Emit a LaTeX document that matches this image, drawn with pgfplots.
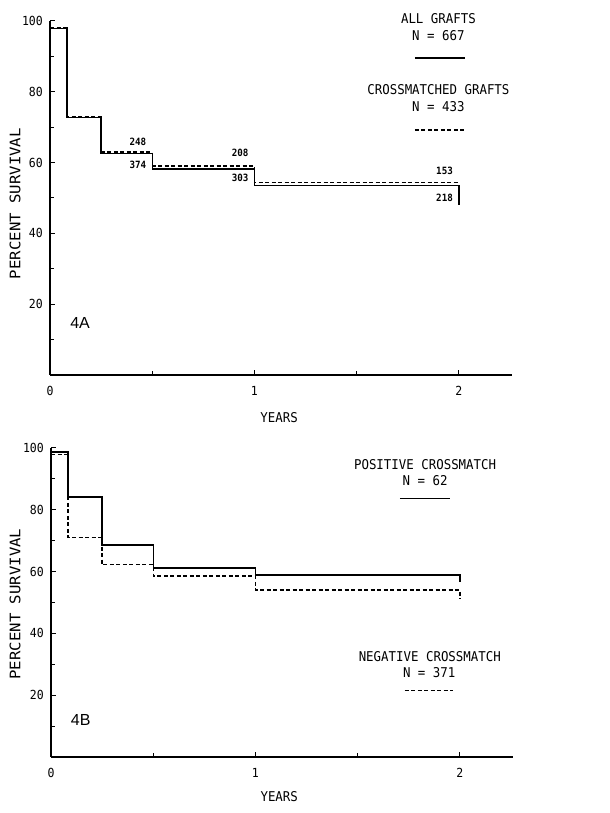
\documentclass[border=0pt]{standalone}
\usepackage{fontspec}
\setmainfont[FakeStretch=0.92]{DejaVu Sans Mono}
\newfontfamily\ylfont[FakeStretch=1.08]{DejaVu Sans Mono}
\newfontfamily\panelfont{Liberation Sans}
\usepackage{pgfplots}
\pgfplotsset{compat=1.18}
\pgfplotsset{
  km/.style={
    scale only axis, width=462bp,
    xmin=0, xmax=2.26, ymin=0, ymax=100,
    axis x line=bottom, axis y line=left,
    axis line style={-, line width=1.3bp},
    xtick={0,1,2}, minor xtick={0.5,1.5},
    ytick={20,40,60,80,100}, minor ytick={10,30,50,70,90},
    tick align=inside, major tick length=4.5bp, minor tick length=3.5bp,
    tick style={line width=1bp, black},
    /pgf/number format/assume math mode=true,
    ticklabel style={font=\fontsize{12.5bp}{14bp}\selectfont, inner sep=0pt},
    xticklabel style={yshift=-11bp},
    yticklabel style={xshift=-7bp},
    xlabel={YEARS}, ylabel={PERCENT SURVIVAL},
    xlabel style={font=\fontsize{13.5bp}{16bp}\selectfont, anchor=center, inner sep=0pt},
    ylabel style={font=\ylfont\fontsize{14.5bp}{16bp}\selectfont, anchor=center, inner sep=0pt},
    clip=false,
  },
  solidc/.style={black, line width=1.4bp, const plot, no marks},
  dashc/.style={black, line width=1.3bp, const plot, no marks, dash pattern=on 4bp off 2.5bp},
}
\tikzset{
  txt/.style={font=\fontsize{13.5bp}{16bp}\selectfont, inner sep=0pt, anchor=center},
  num/.style={font=\bfseries\fontsize{10bp}{12bp}\selectfont, inner sep=0pt, anchor=center},
  pan/.style={font=\panelfont\fontsize{16bp}{18bp}\selectfont, inner sep=0pt, anchor=center},
}
\begin{document}
\begin{tikzpicture}
\path (0,0) rectangle (610bp,813bp);
% ---------- Panel 4A ----------
\begin{axis}[km, at={(50bp,438bp)}, anchor=south west, height=354bp,
  xlabel style={at={(axis description cs:0.496,-0.1215)}},
  ylabel style={at={(axis description cs:-0.0757,0.484)}}]
\addplot[solidc] coordinates {(0,97.8) (0.083,72.8) (0.25,62.6) (0.5,58.2) (1,53.5) (2,53.5) (2,48)};
\addplot[dashc] coordinates {(0,98.2) (0.083,73.1) (0.25,63.0) (0.5,59.0) (1,54.3) (2,54.3)};
% legend samples
\addplot[solidc] coordinates {(1.785,89.5) (2.03,89.5)};
\addplot[dashc] coordinates {(1.785,69.2) (2.03,69.2)};
\node[txt] at (axis cs:1.90,100.8) {ALL GRAFTS};
\node[txt] at (axis cs:1.90,96.0) {N = 667};
\node[txt] at (axis cs:1.90,80.5) {CROSSMATCHED GRAFTS};
\node[txt] at (axis cs:1.90,75.7) {N = 433};
\node[num] at (axis cs:0.43,65.8) {248};
\node[num] at (axis cs:0.43,59.3) {374};
\node[num] at (axis cs:0.93,62.7) {208};
\node[num] at (axis cs:0.93,55.6) {303};
\node[num] at (axis cs:1.93,57.6) {153};
\node[num] at (axis cs:1.93,50.0) {218};
\node[pan] at (axis cs:0.147,14.7) {4A};
\end{axis}
% ---------- Panel 4B ----------
\begin{axis}[km, at={(51bp,56bp)}, anchor=south west, height=309bp,
  xlabel style={at={(axis description cs:0.494,-0.129)}},
  ylabel style={at={(axis description cs:-0.0779,0.495)}}]
\addplot[solidc] coordinates {(0,98.7) (0.083,84.2) (0.25,68.6) (0.5,61.1) (1,58.9) (2,58.9) (2,56.6)};
\addplot[dashc] coordinates {(0,97.8) (0.083,71.0) (0.25,62.2) (0.5,58.6) (1,54.0) (2,54.0) (2,51.1)};
% legend samples
\addplot[solidc] coordinates {(1.707,83.7) (1.95,83.7)};
\addplot[dashc] coordinates {(1.73,21.5) (1.966,21.5)};
\node[txt] at (axis cs:1.83,94.5) {POSITIVE CROSSMATCH};
\node[txt] at (axis cs:1.83,89.6) {N = 62};
\node[txt] at (axis cs:1.853,32.5) {NEGATIVE CROSSMATCH};
\node[txt] at (axis cs:1.85,27.2) {N = 371};
\node[pan] at (axis cs:0.145,12.0) {4B};
\end{axis}
\end{tikzpicture}
\end{document}
